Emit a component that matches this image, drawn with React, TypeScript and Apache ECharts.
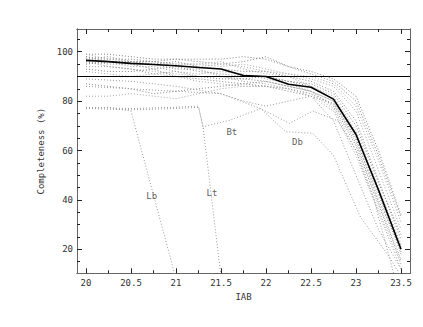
import React, { useEffect, useRef } from "react";
import * as echarts from "echarts";

// Magnitude grid shared by the mean curve and the field curves
const magGrid = [20, 20.25, 20.5, 20.75, 21, 21.25, 21.5, 21.75, 22, 22.25, 22.5, 22.75, 23, 23.25, 23.5];

// Mean completeness (thick black line)
const meanCompleteness = [96.5, 96, 95.3, 94.8, 94.3, 93.6, 93, 90.4, 90, 86.8, 85.6, 80.8, 66.5, 44, 20];

// Individual field completeness curves (dotted)
const fieldA = [99, 99, 98, 97, 97, 96, 95, 96, 98, 94, 91, 88, 80, 58, 33];
const fieldB = [98, 97, 97, 96, 95, 95, 94, 95, 93, 91, 89, 86, 76, 52, 28];
const fieldC = [97, 98, 96, 95, 96, 94, 93, 92, 92, 90, 88, 84, 72, 48, 24];
const fieldD = [99, 97, 96, 96, 95, 95, 96, 93, 91, 90, 86, 82, 68, 45, 22];
const fieldE = [96, 95, 95, 93, 94, 92, 91, 90, 90, 88, 87, 83, 70, 47, 26];
const fieldF = [95, 96, 94, 94, 92, 91, 92, 91, 89, 87, 84, 80, 64, 42, 18];
const fieldG = [98, 96, 95, 95, 93, 93, 90, 89, 88, 86, 84, 78, 62, 38, 15];
const fieldH = [94, 94, 93, 92, 91, 90, 90, 88, 87, 85, 83, 77, 60, 36, 14];
const fieldI = [93, 92, 92, 93, 90, 89, 88, 87, 86, 84, 82, 79, 65, 40, 20];
const fieldJ = [97, 97, 97, 96, 94, 94, 95, 94, 92, 91, 90, 87, 78, 56, 31];
const fieldK = [96, 94, 93, 91, 92, 90, 89, 89, 90, 88, 86, 81, 67, 44, 21];
const fieldL = [92, 91, 90, 91, 90, 88, 87, 86, 86, 85, 82, 76, 58, 35, 12];
const fieldM = [87, 86, 85, 83, 84, 85, 86, 87, 88, 86, 84, 80, 66, 43, 19];
const fieldN = [82, 82, 83, 82, 81, 83, 85, 86, 86, 85, 83, 79, 63, 39, 16];
const fieldO = [95, 96, 96, 96, 97, 97, 97, 98, 97, 94, 92, 89, 82, 60, 34];
const fieldCurves = [fieldA, fieldB, fieldC, fieldD, fieldE, fieldF, fieldG, fieldH, fieldI, fieldJ, fieldK, fieldL, fieldM, fieldN, fieldO];

// Irregular curves as [mag, completeness] pairs
const lbCurve = [[20, 77], [20.25, 77.5], [20.5, 76], [21, 8]];
const ltCurve = [[20, 77.5], [20.5, 77], [21, 77.5], [21.25, 78], [21.3, 69.6], [21.5, 9]];
const btCurve = [[20, 77], [20.5, 76.5], [21, 77], [21.25, 77.5], [21.3, 69.6], [21.6, 72.3], [21.94, 77], [22.26, 71], [22.52, 76], [22.8, 72], [23, 60], [23.2, 40], [23.42, 10]];
const dbCurve = [[20, 89], [20.5, 88], [21, 86], [21.5, 83], [21.94, 77], [22.22, 67.6], [22.52, 67], [22.75, 58], [23.05, 33], [23.37, 17], [23.5, 9]];
const extraCurve = [[20, 86], [20.5, 85], [21, 84], [21.5, 83], [21.75, 80], [22, 78], [22.25, 80], [22.5, 82], [22.75, 72], [23, 50], [23.25, 28], [23.5, 12]];

// Curve annotations
const labelNames = ["Lb", "Lt", "Bt", "Db"];
const labelMag = [20.73, 21.4, 21.62, 22.35];
const labelComp = [41.5, 42.7, 67.4, 63.4];

// Axis ticks
const xMajor = [20, 20.5, 21, 21.5, 22, 22.5, 23, 23.5];
const xMinor = [20.25, 20.75, 21.25, 21.75, 22.25, 22.75, 23.25];
const yMajor = [20, 40, 60, 80, 100];
const yMinor = [15, 25, 30, 35, 45, 50, 55, 65, 70, 75, 85, 90, 95, 105];
const completenessLimit = 90;

const FONT = "DejaVu Sans Mono";
const AXIS_GRAY = "#666";
const TICK = "#222";
const TEXT = "#333";

export default function App() {
  const ref = useRef<HTMLDivElement>(null);
  useEffect(() => {
    if (!ref.current) return;
    const chart = echarts.init(ref.current, undefined, { renderer: "svg" });
    const xRange = { min: 19.9, max: 23.6 };
    const yRange = { min: 10.3, max: 109.2 };
    const mkX = (pos: "bottom" | "top", major: boolean, showLabel: boolean, name?: string) => {
      const ax: any = {
        type: "value",
        position: pos,
        ...xRange,
        splitLine: { show: false },
        axisLine: { show: true, onZero: false, lineStyle: { color: AXIS_GRAY, width: 1 } },
        axisTick: {
          show: true,
          inside: true,
          length: major ? 5 : 3,
          customValues: major ? xMajor : xMinor,
          lineStyle: { color: TICK, width: 1 },
        },
        axisLabel: showLabel
          ? { customValues: xMajor, margin: 5, fontFamily: FONT, fontSize: 9, color: TEXT }
          : { show: false },
      };
      if (name) {
        ax.name = name;
        ax.nameLocation = "middle";
        ax.nameGap = 12;
        ax.nameTextStyle = { fontFamily: FONT, fontSize: 9, color: TEXT };
      }
      return ax;
    };
    const mkY = (pos: "left" | "right", major: boolean, showLabel: boolean, name?: string) => {
      const ax: any = {
        type: "value",
        position: pos,
        ...yRange,
        splitLine: { show: false },
        axisLine: { show: true, onZero: false, lineStyle: { color: AXIS_GRAY, width: 1 } },
        axisTick: {
          show: true,
          inside: true,
          length: major ? 5 : 3,
          customValues: major ? yMajor : yMinor,
          lineStyle: { color: TICK, width: 1 },
        },
        axisLabel: showLabel
          ? { customValues: yMajor, margin: 4, fontFamily: FONT, fontSize: 9, color: TEXT }
          : { show: false },
      };
      if (name) {
        ax.name = name;
        ax.nameLocation = "middle";
        ax.nameGap = 25;
        ax.nameTextStyle = { fontFamily: FONT, fontSize: 9, color: TEXT };
      }
      return ax;
    };

    const dotted = { type: [1, 2], width: 1, color: "#999" };
    const series: any[] = [];
    fieldCurves.forEach((c, i) => {
      series.push({
        type: "line",
        name: "field" + i,
        data: magGrid.map((m, k) => [m, c[k]]),
        showSymbol: false,
        lineStyle: { ...dotted, color: i % 2 ? "#a8a8a8" : "#888" },
        clip: true,
        silent: true,
      });
    });
    [lbCurve, ltCurve, btCurve, dbCurve, extraCurve].forEach((c, i) => {
      series.push({
        type: "line",
        name: "special" + i,
        data: c,
        showSymbol: false,
        lineStyle: dotted,
        clip: true,
        silent: true,
      });
    });
    series.push({
      type: "line",
      name: "mean",
      data: magGrid.map((m, k) => [m, meanCompleteness[k]]),
      showSymbol: false,
      lineStyle: { color: "#000", width: 1.6, type: "solid" },
      z: 5,
      markLine: {
        silent: true,
        symbol: "none",
        label: { show: false },
        lineStyle: { color: "#000", width: 1, type: "solid" },
        data: [{ yAxis: completenessLimit }],
      },
    });
    series.push({
      type: "scatter",
      name: "labels",
      data: labelNames.map((n, i) => ({ name: n, value: [labelMag[i], labelComp[i]] })),
      symbolSize: 1,
      itemStyle: { color: "rgba(0,0,0,0)" },
      label: {
        show: true,
        position: "inside",
        formatter: (p: any) => p.name,
        fontFamily: FONT,
        fontSize: 9,
        color: "#333",
        textBorderWidth: 0,
      },
      z: 6,
    });

    chart.setOption({
      animation: false,
      backgroundColor: "#fff",
      grid: { left: 77, top: 29, width: 333, height: 244.3 },
      xAxis: [
        mkX("bottom", true, true, "IAB"),
        mkX("bottom", false, false),
        mkX("top", true, false),
        mkX("top", false, false),
      ],
      yAxis: [
        mkY("left", true, true, "Completeness (%)"),
        mkY("left", false, false),
        mkY("right", true, false),
        mkY("right", false, false),
      ],
      series,
    });
    return () => chart.dispose();
  }, []);
  return (
    <div
      ref={ref}
      style={{ position: "fixed", left: 0, top: 0, width: 423, height: 327, background: "#fff" }}
    />
  );
}
